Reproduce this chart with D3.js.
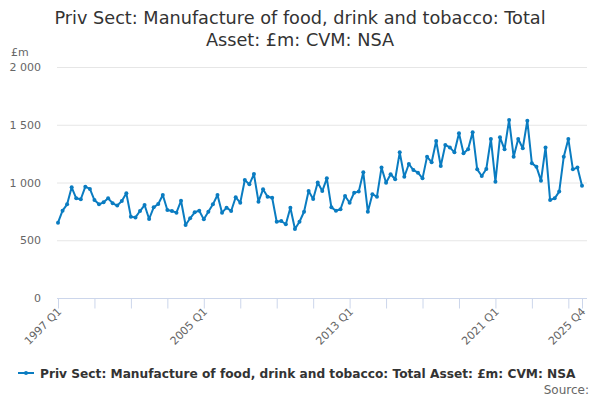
<!DOCTYPE html>
<html>
<head>
<meta charset="utf-8">
<script src="https://cdn.jsdelivr.net/npm/d3@7"></script>
<style>
  body { margin: 0; background: #fff; }
  svg { font-family: "DejaVu Sans", sans-serif; }
</style>
</head>
<body>
<svg id="chart" width="600" height="400"></svg>
<script>
var years = d3.range(1997, 2026);
var quarters = [];
years.forEach(function(y) {
  for (var q = 1; q <= 4; q++) quarters.push(y + ' Q' + q);
});

var values = [
  652, 756, 811, 958,
  863, 855, 964, 944,
  848, 811, 828, 863,
  820, 800, 840, 906,
  704, 698, 753, 805,
  684, 785, 814, 892,
  762, 753, 739, 842,
  632, 690, 742, 756,
  681, 747, 811, 892,
  739, 782, 753, 872,
  825, 1022, 984, 1073,
  834, 941, 877, 868,
  660, 667, 638, 782,
  597, 660, 747, 926,
  857, 1000, 926, 1036,
  785, 756, 768, 883,
  825, 912, 921, 1088,
  747, 898, 877, 1129,
  998, 1071, 1028, 1261,
  1050, 1160, 1108, 1085,
  1036, 1224, 1175, 1359,
  1143, 1325, 1304, 1261,
  1426, 1253, 1287, 1435,
  1114, 1056, 1117, 1377,
  1007, 1391, 1287, 1541,
  1224, 1377, 1296, 1535,
  1166, 1137, 1016, 1304,
  848, 863, 921, 1224,
  1377, 1114, 1129, 972
];

var yTicks = [0, 500, 1000, 1500, 2000];
var labelledTicks = ['1997 Q1', '2005 Q1', '2013 Q1', '2021 Q1', '2025 Q4'];
var seriesName = 'Priv Sect: Manufacture of food, drink and tobacco: Total Asset: £m: CVM: NSA';

var svg = d3.select('#chart');
var plotLeft = 57, plotRight = 587, plotTop = 67, plotBottom = 298;
var lineColour = '#0a7cc1';

var x = d3.scalePoint().domain(quarters).range([58, 582]);
var y = d3.scaleLinear().domain([0, 2000]).range([plotBottom, plotTop]);

// title
svg.append('text')
  .attr('x', 300).attr('y', 24)
  .attr('text-anchor', 'middle')
  .style('font-size', '17.7px').style('fill', '#333')
  .selectAll('tspan')
  .data(['Priv Sect: Manufacture of food, drink and tobacco: Total', 'Asset: £m: CVM: NSA'])
  .enter().append('tspan')
    .attr('x', 300)
    .attr('dy', function(d, i) { return i ? 22 : 0; })
    .text(function(d) { return d; });

// unit
svg.append('text')
  .attr('x', 11).attr('y', 56)
  .style('font-size', '11px').style('fill', '#666')
  .text('£m');

// gridlines + y labels
var yAxis = svg.append('g');
yAxis.selectAll('line')
  .data(yTicks.filter(function(d) { return d > 0; }))
  .enter().append('line')
    .attr('x1', plotLeft).attr('x2', plotRight)
    .attr('y1', function(d) { return y(d) + 0.5; })
    .attr('y2', function(d) { return y(d) + 0.5; })
    .attr('stroke', '#e6e6e6');

yAxis.selectAll('text')
  .data(yTicks)
  .enter().append('text')
    .attr('x', 41)
    .attr('y', function(d) { return y(d) + 4; })
    .attr('text-anchor', 'end')
    .style('font-size', '11px').style('fill', '#666')
    .text(function(d) { return d3.format(',')(d).replace(/,/g, ' '); });

// x axis
var tickQuarters = quarters.filter(function(d, i) { return i % 8 === 0; });
tickQuarters.push(quarters[quarters.length - 1]);

var xAxis = d3.axisBottom(x)
  .tickValues(tickQuarters)
  .tickSize(10)
  .tickFormat(function(d) { return labelledTicks.indexOf(d) >= 0 ? d : ''; });

var gx = svg.append('g')
  .attr('transform', 'translate(0,' + (plotBottom + 0.5) + ')')
  .call(xAxis);

gx.select('.domain').remove();
gx.append('line')
  .attr('x1', plotLeft).attr('x2', plotRight)
  .attr('stroke', '#ccd6eb');
gx.selectAll('.tick line').attr('stroke', '#ccd6eb');
gx.selectAll('.tick text')
  .attr('text-anchor', 'end')
  .attr('transform', 'translate(1,11) rotate(-45)')
  .attr('dy', '0.35em').attr('y', 0)
  .style('font-size', '11px').style('fill', '#666')
  .style('font-family', '"DejaVu Sans", sans-serif');

// line
var line = d3.line()
  .x(function(d, i) { return x(quarters[i]); })
  .y(function(d) { return y(d); });

svg.append('path')
  .datum(values)
  .attr('d', line)
  .attr('fill', 'none')
  .attr('stroke', lineColour)
  .attr('stroke-width', 2)
  .attr('stroke-linejoin', 'round');

svg.append('g').selectAll('circle')
  .data(values)
  .enter().append('circle')
    .attr('cx', function(d, i) { return x(quarters[i]); })
    .attr('cy', function(d) { return y(d); })
    .attr('r', 2)
    .attr('fill', lineColour);

// legend
var legend = svg.append('g').attr('transform', 'translate(18,373)');
legend.append('line')
  .attr('x1', 0).attr('x2', 16)
  .attr('stroke', lineColour).attr('stroke-width', 2);
legend.append('circle').attr('cx', 8).attr('r', 2).attr('fill', lineColour);
legend.append('text')
  .attr('x', 22).attr('y', 5)
  .style('font-size', '12.2px').style('font-weight', 'bold').style('fill', '#333')
  .text(seriesName);

svg.append('text')
  .attr('x', 589).attr('y', 394)
  .attr('text-anchor', 'end')
  .style('font-size', '12px').style('fill', '#666')
  .text('Source:');
</script>
</body>
</html>
